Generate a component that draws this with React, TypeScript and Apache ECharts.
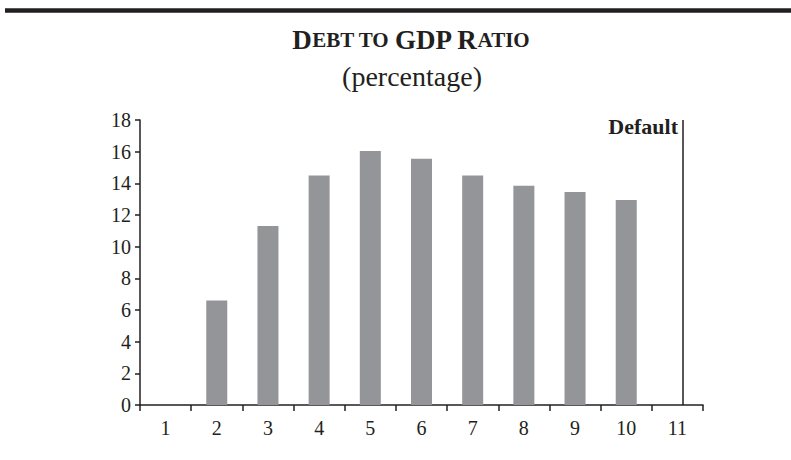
import React, { useEffect, useRef } from "react";
import * as echarts from "echarts";

const categories = ["1", "2", "3", "4", "5", "6", "7", "8", "9", "10", "11"];
const debtToGdp: (number | null)[] = [null, 6.6, 11.3, 14.5, 16.05, 15.55, 14.5, 13.85, 13.45, 12.95, null];
const defaultPeriod = 11.1;
const yMin = 0;
const yMax = 18;
const yInterval = 2;

const INK = "#231f20";
const FONT = "Liberation Serif";

export default function App() {
  const ref = useRef<HTMLDivElement>(null);

  useEffect(() => {
    if (!ref.current) return;
    const chart = echarts.init(ref.current, undefined, { renderer: "svg" });
    chart.setOption({
      animation: false,
      backgroundColor: "#ffffff",
      title: [
        {
          text: "{b|D}{s|EBT TO }{b|GDP R}{s|ATIO}",
          left: 406,
          textAlign: "center",
          top: 21,
          textStyle: {
            fontFamily: FONT,
            fontWeight: "bold",
            fontSize: 27,
            color: INK,
            rich: {
              b: { fontFamily: FONT, fontWeight: "bold", fontSize: 27, color: INK },
              s: { fontFamily: FONT, fontWeight: "bold", fontSize: 21, color: INK },
            },
          },
        },
        {
          text: "(percentage)",
          left: 407,
          textAlign: "center",
          top: 57,
          textStyle: { fontFamily: FONT, fontWeight: "normal", fontSize: 28, color: INK },
        },
      ],
      graphic: [
        {
          type: "line",
          shape: { x1: 5, y1: 10.5, x2: 791, y2: 10.5 },
          style: { stroke: INK, lineWidth: 4.5 },
          silent: true,
        },
      ],
      grid: { left: 140, right: 88, top: 120, bottom: 55, containLabel: false },
      xAxis: [
        {
          type: "category",
          data: categories,
          boundaryGap: true,
          axisLine: { show: true, lineStyle: { color: INK, width: 1.5 } },
          axisTick: { show: true, inside: false, length: 6, alignWithLabel: false, lineStyle: { color: INK, width: 1.5 } },
          axisLabel: { fontFamily: FONT, fontSize: 20, color: INK, margin: 13 },
          splitLine: { show: false },
        },
        {
          type: "value",
          min: 0.5,
          max: 11.5,
          show: false,
        },
      ],
      yAxis: {
        type: "value",
        min: yMin,
        max: yMax,
        interval: yInterval,
        axisLine: { show: true, lineStyle: { color: INK, width: 1.5 } },
        axisTick: { show: true, inside: false, length: 5, lineStyle: { color: INK, width: 1.5 } },
        axisLabel: { fontFamily: FONT, fontSize: 20, color: INK, margin: 9 },
        splitLine: { show: false },
      },
      series: [
        {
          type: "bar",
          name: "Debt to GDP",
          data: debtToGdp,
          barWidth: 21,
          itemStyle: { color: "#939598" },
          xAxisIndex: 0,
          yAxisIndex: 0,
        },
        {
          type: "line",
          name: "Default",
          data: [[defaultPeriod, yMax]],
          xAxisIndex: 1,
          yAxisIndex: 0,
          symbol: "none",
          showSymbol: false,
          silent: true,
          markLine: {
            silent: true,
            symbol: ["none", "none"],
            lineStyle: { color: INK, width: 1.5, type: "solid" },
            label: { show: false },
            data: [
              [
                { coord: [defaultPeriod, yMin] },
                { coord: [defaultPeriod, yMax] },
              ],
            ],
          },
          markPoint: {
            silent: true,
            symbol: "rect",
            symbolSize: 1,
            itemStyle: { color: "rgba(0,0,0,0)" },
            label: {
              show: true,
              position: "left",
              distance: 4,
              offset: [0, 6],
              formatter: "Default",
              fontFamily: FONT,
              fontWeight: "bold",
              fontSize: 22,
              color: INK,
            },
            data: [{ coord: [defaultPeriod, yMax] }],
          },
        },
      ],
    });
    return () => chart.dispose();
  }, []);

  return (
    <div
      ref={ref}
      style={{ position: "fixed", left: 0, top: 0, width: 791, height: 460, background: "#fff" }}
    />
  );
}
